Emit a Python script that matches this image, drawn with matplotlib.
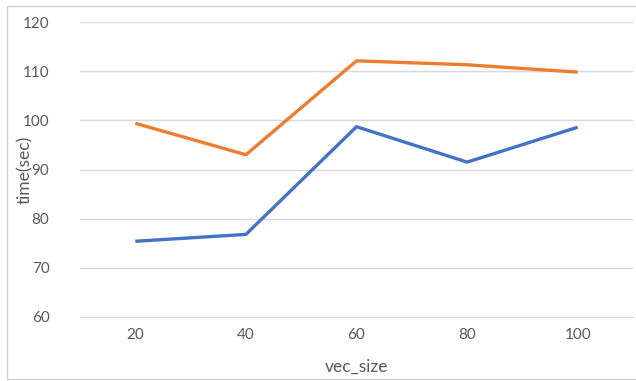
import matplotlib.pyplot as plt
from matplotlib.patches import Rectangle

vec_sizes = ['20', '40', '60', '80', '100']
blue_times = [75.4, 76.8, 98.7, 91.5, 98.6]
orange_times = [99.4, 93.0, 112.1, 111.3, 109.8]

plt.rcParams['font.family'] = ['Lato', 'DejaVu Sans']
text_color = '#595959'

fig = plt.figure(figsize=(6.36, 3.81), dpi=100)
ax = fig.add_axes([80/636, 1-317/381, 553/636, 295/381])

x = range(len(vec_sizes))
ax.plot(x, blue_times, color='#4472C4', lw=2.4, solid_capstyle='butt')
ax.plot(x, orange_times, color='#ED7D31', lw=2.4, solid_capstyle='butt')

ax.set_xlim(-0.5, len(vec_sizes) - 0.5)
ax.set_ylim(60, 120)
ax.set_yticks(range(60, 121, 10))
ax.set_xticks(list(x))
ax.set_xticklabels(vec_sizes)
ax.grid(axis='y', color='#d9d9d9', lw=1)
ax.set_axisbelow(True)
for s in ['top', 'right', 'left']:
    ax.spines[s].set_visible(False)
ax.spines['bottom'].set_color('#d9d9d9')
ax.tick_params(length=0, labelsize=11, colors=text_color, pad=8)
ax.tick_params(axis='y', pad=22)
ax.set_xlabel('vec_size', fontsize=12.5, color=text_color)
ax.set_ylabel('time(sec)', fontsize=12.5, color=text_color)
ax.xaxis.set_label_coords(0.5, -50/295, transform=ax.transAxes)
ax.yaxis.set_label_coords(-55/553, 0.5, transform=ax.transAxes)
ax.xaxis.label.set_va('center')
ax.yaxis.label.set_va('center')

fig.patches.append(Rectangle((7/636, 2/381), 1.0, 373/381, transform=fig.transFigure,
                             fill=False, edgecolor='#d0d0d0', lw=1))

fig.savefig('out.png', dpi=100)
